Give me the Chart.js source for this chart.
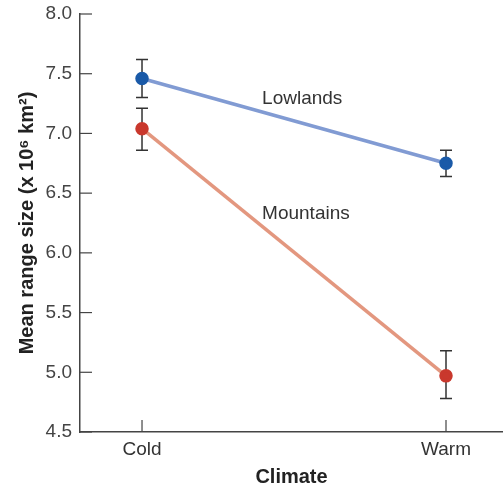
<!DOCTYPE html>
<html>
<head>
<meta charset="utf-8">
<script src="https://cdn.jsdelivr.net/npm/chart.js@4"></script>
<style>
  html, body { margin: 0; padding: 0; background: #fff; }
  #wrap { width: 503px; height: 489px; }
</style>
</head>
<body>
<div id="wrap"><canvas id="grafico"></canvas></div>
<script>
// Datos: tamaño medio del área de distribución por clima
const climas = ["Cold", "Warm"];
const lowlands = [7.46, 6.75];
const lowlandsMin = [7.30, 6.64];
const lowlandsMax = [7.62, 6.86];
const mountains = [7.04, 4.97];
const mountainsMin = [6.86, 4.78];
const mountainsMax = [7.21, 5.18];
const ticksY = [4.5, 5.0, 5.5, 6.0, 6.5, 7.0, 7.5, 8.0];

const fuente = "'Liberation Sans', Arial, sans-serif";
const colorEje = "#444";

function puntos(valores) {
    return valores.map((v, i) => ({ x: i, y: v }));
}

// Barras de error, marcas hacia dentro y etiquetas de las series
const extras = {
    id: "extras",
    beforeDatasetsDraw(chart) {
        const ctx = chart.ctx;
        const sx = chart.scales.x, sy = chart.scales.y;
        ctx.save();
        ctx.strokeStyle = "#333";
        ctx.lineWidth = 1.5;
        const barras = [[lowlandsMin, lowlandsMax], [mountainsMin, mountainsMax]];
        barras.forEach(([bajo, alto]) => {
            bajo.forEach((b, i) => {
                const x = sx.getPixelForValue(i);
                const y1 = sy.getPixelForValue(b);
                const y2 = sy.getPixelForValue(alto[i]);
                ctx.beginPath();
                ctx.moveTo(x, y1); ctx.lineTo(x, y2);
                ctx.moveTo(x - 6, y1); ctx.lineTo(x + 6, y1);
                ctx.moveTo(x - 6, y2); ctx.lineTo(x + 6, y2);
                ctx.stroke();
            });
        });
        // marcas de los ejes
        ctx.strokeStyle = colorEje;
        ctx.lineWidth = 1.2;
        ticksY.forEach(v => {
            const y = sy.getPixelForValue(v);
            ctx.beginPath();
            ctx.moveTo(sx.left, y); ctx.lineTo(sx.left + 12, y);
            ctx.stroke();
        });
        climas.forEach((c, i) => {
            const x = sx.getPixelForValue(i);
            ctx.beginPath();
            ctx.moveTo(x, sy.bottom); ctx.lineTo(x, sy.bottom - 12);
            ctx.stroke();
        });
        ctx.restore();
    },
    afterDatasetsDraw(chart) {
        const ctx = chart.ctx;
        const sx = chart.scales.x, sy = chart.scales.y;
        ctx.save();
        ctx.fillStyle = "#333";
        ctx.font = "19px " + fuente;
        ctx.textBaseline = "alphabetic";
        ctx.fillText("Lowlands", sx.getPixelForValue(0.395), sy.getPixelForValue(7.246));
        ctx.fillText("Mountains", sx.getPixelForValue(0.395), sy.getPixelForValue(6.283));
        ctx.restore();
    }
};

document.addEventListener("DOMContentLoaded", function () {
    const ctx = document.getElementById("grafico").getContext("2d");
    new Chart(ctx, {
        type: "line",
        data: {
            datasets: [
                {
                    label: "Lowlands",
                    data: puntos(lowlands),
                    borderColor: "#819bd3",
                    borderWidth: 3.5,
                    pointBackgroundColor: "#1a5aa8",
                    pointBorderColor: "#1a5aa8",
                    pointRadius: 5,
                },
                {
                    label: "Mountains",
                    data: puntos(mountains),
                    borderColor: "#e3977f",
                    borderWidth: 3.5,
                    pointBackgroundColor: "#c9382d",
                    pointBorderColor: "#c9382d",
                    pointRadius: 5,
                },
            ],
        },
        options: {
            responsive: true,
            maintainAspectRatio: false,
            animation: false,
            layout: { autoPadding: false, padding: { top: 14, right: 0, left: 0, bottom: 0 } },
            plugins: { legend: { display: false }, tooltip: { enabled: false } },
            scales: {
                x: {
                    type: "linear",
                    min: -0.204,
                    max: 1.1875,
                    afterBuildTicks: s => { s.ticks = climas.map((c, i) => ({ value: i })); },
                    afterFit: s => { s.height = 57; s.paddingLeft = 0; s.paddingRight = 0; },
                    grid: { display: false, drawTicks: false },
                    border: { color: colorEje, width: 1.5 },
                    ticks: {
                        padding: 6,
                        color: "#333",
                        font: { family: fuente, size: 19 },
                        callback: v => climas[v],
                    },
                    title: {
                        display: true,
                        text: "Climate",
                        color: "#222",
                        font: { family: fuente, size: 20, weight: "bold" },
                        padding: { top: 6, bottom: 0 },
                    },
                },
                y: {
                    min: 4.5,
                    max: 8.0,
                    afterBuildTicks: s => { s.ticks = ticksY.map(v => ({ value: v })); },
                    afterFit: s => { s.width = 80; s.paddingTop = 0; s.paddingBottom = 0; },
                    grid: { display: false, drawTicks: false },
                    border: { color: colorEje, width: 1.5 },
                    ticks: {
                        padding: 8,
                        color: "#444",
                        font: { family: fuente, size: 19 },
                        callback: v => v.toFixed(1),
                    },
                    title: {
                        display: true,
                        text: "Mean range size (x 10⁶ km²)",
                        color: "#222",
                        font: { family: fuente, size: 20, weight: "bold" },
                        padding: { bottom: 0, top: 15 },
                    },
                },
            },
        },
        plugins: [extras],
    });
});
</script>
</body>
</html>
